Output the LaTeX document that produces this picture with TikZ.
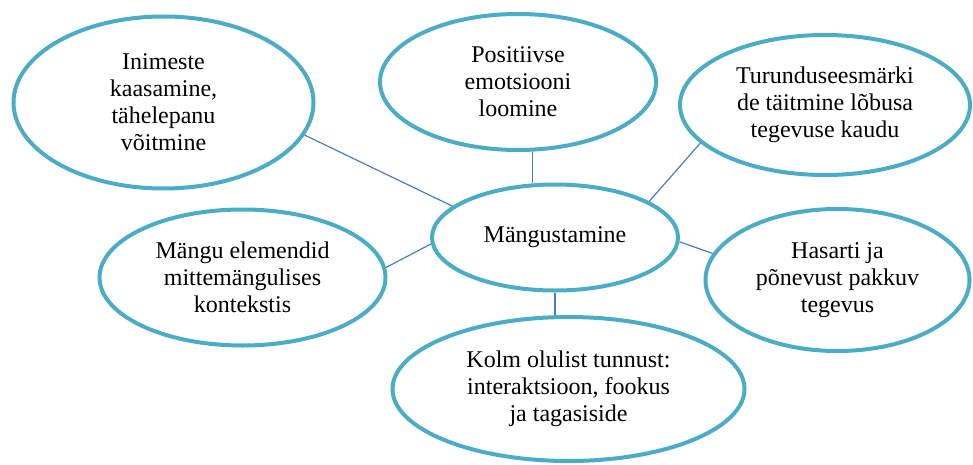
\documentclass[tikz,border=0pt]{standalone}
\usepackage{fontspec}
\setmainfont{Liberation Serif}
\usetikzlibrary{shapes.geometric}
\definecolor{oval}{HTML}{4BACC6}
\definecolor{link}{HTML}{4A7EBB}
\begin{document}
\begin{tikzpicture}[x=.5pt,y=-.5pt,
    idea/.style={ellipse,draw=oval,line width=2pt,inner sep=0pt,align=center,
      font=\fontsize{12}{13.5}\selectfont},
    tie/.style={draw=link,line width=.6pt}]
  \useasboundingbox (0,0) rectangle (973,465);
  \node[idea,minimum width=150pt,minimum height=86pt] (kaas) at (163.5,102.5) {Inimeste\\kaasamine,\\tähelepanu\\võitmine};
  \node[idea,minimum width=138pt,minimum height=68pt] (emo) at (518,82) {Positiivse\\emotsiooni\\loomine};
  \node[idea,minimum width=145pt,minimum height=70pt] (turu) at (825,105) {Turunduseesmärki\\de täitmine lõbusa\\tegevuse kaudu};
  \node[idea,minimum width=123pt,minimum height=53pt] (mang) at (555,237.5) {Mängustamine};
  \node[idea,minimum width=143pt,minimum height=68pt] (elem) at (242.5,277.5) {Mängu elemendid\\mittemängulises\\kontekstis};
  \node[idea,minimum width=132pt,minimum height=71pt] (hasart) at (837.5,280) {Hasarti ja\\põnevust pakkuv\\tegevus};
  \node[idea,minimum width=176pt,minimum height=72pt] (kolm) at (568.5,389) {Kolm olulist tunnust:\\interaktsioon, fookus\\ja tagasiside};
  % connectors
  \draw[tie] (kaas.-13.5) -- (mang.163.3);
  \draw[tie] (emo.-78.7) -- (emo.-78.7 |- mang.north);
  \draw[tie] (turu.197.9) -- (mang.21.5);
  \draw[tie] (elem.4.1) -- (mang.183.4);
  \draw[tie] (hasart.168.2) -- (mang.-2.6);
  \draw[tie] (mang.south) -- (mang.south |- kolm.north);
\end{tikzpicture}
\end{document}
